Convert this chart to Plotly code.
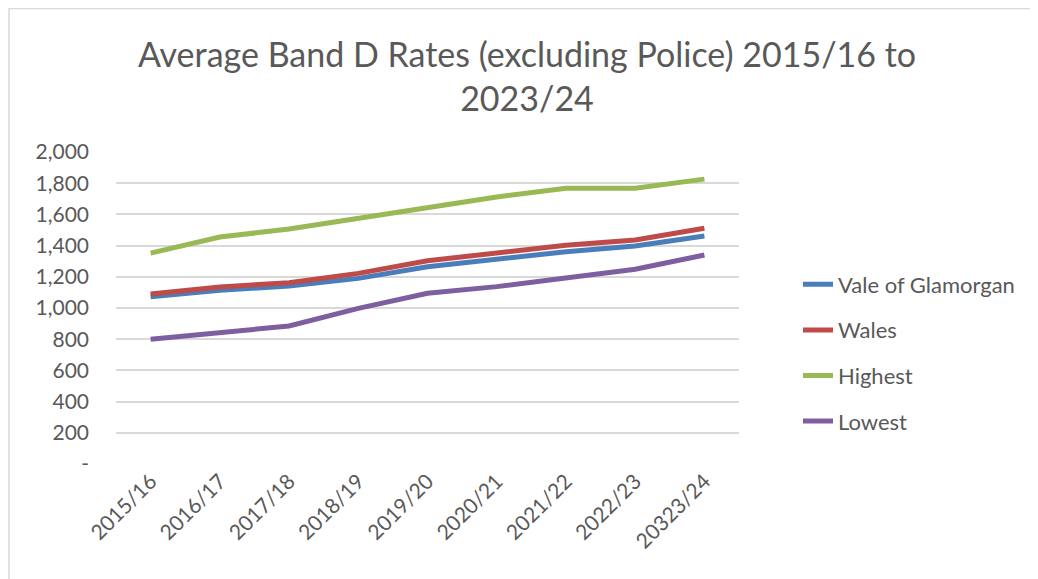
import plotly.graph_objects as go

years = ["2015/16", "2016/17", "2017/18", "2018/19", "2019/20",
         "2020/21", "2021/22", "2022/23", "20323/24"]
vale = [1072, 1113, 1141, 1190, 1265, 1312, 1361, 1397, 1462]
wales = [1090, 1135, 1162, 1222, 1303, 1350, 1402, 1436, 1511]
highest = [1352, 1455, 1506, 1577, 1647, 1712, 1768, 1768, 1826]
lowest = [799, 842, 885, 998, 1094, 1137, 1190, 1248, 1340]

series_names = ["Vale of Glamorgan", "Wales", "Highest", "Lowest"]
series_values = [vale, wales, highest, lowest]
colors = ["#4A7EBB", "#BE4B48", "#98B954", "#7D5FA0"]

y_tickvals = [0, 200, 400, 600, 800, 1000, 1200, 1400, 1600, 1800, 2000]
y_ticktext = ["-", "200", "400", "600", "800", "1,000", "1,200", "1,400",
              "1,600", "1,800", "2,000"]

FONT = "Lato, Carlito, Calibri, sans-serif"
GREY = "#595959"

fig = go.Figure()
for i, (name, vals, col) in enumerate(zip(series_names, series_values, colors)):
    fig.add_trace(go.Scatter(
        x=years, y=vals, mode="lines", name=name,
        line=dict(color=col, width=5),
        legendgroup=f"g{i}",
    ))

W, H = 1038, 579
L, R, T, B = 108, 731, 144, 456


def px_x(v):
    return (v - L) / (R - L)


def px_y(v):
    return (B - v) / (B - T)


border = dict(color="#D9D9D9", width=1.5)

fig.update_layout(
    width=W, height=H,
    margin=dict(l=L, r=W - R, t=T, b=H - B, autoexpand=False),
    paper_bgcolor="white", plot_bgcolor="white",
    font=dict(family=FONT, color=GREY, size=21),
    title=dict(
        text="Average Band D Rates (excluding Police) 2015/16 to<br>2023/24",
        x=0.5, xref="container", xanchor="center",
        y=1 - 59 / H, yref="container", yanchor="top",
        font=dict(family=FONT, size=34, color=GREY),
    ),
    showlegend=True,
    legend=dict(
        x=1 + (790 - R) / (R - L), xanchor="left",
        y=(B - 345) / (B - T), yanchor="middle",
        font=dict(family=FONT, size=22, color=GREY),
        tracegroupgap=14,
        bgcolor="rgba(0,0,0,0)",
    ),
    xaxis=dict(
        type="category", range=[-0.5, 8.5],
        showgrid=False, zeroline=False, showline=False,
        ticks="", tickangle=-45,
        tickfont=dict(family=FONT, size=21, color=GREY),
    ),
    yaxis=dict(
        range=[0, 2000], tickvals=y_tickvals, ticktext=y_ticktext,
        showgrid=True, gridcolor="#D9D9D9", gridwidth=1.5,
        zeroline=False, showline=False, ticks="",
        ticklabelstandoff=26,
        tickfont=dict(family=FONT, size=21, color=GREY),
    ),
    shapes=[
        dict(type="line", xref="paper", yref="paper",
             x0=px_x(1), x1=px_x(1200), y0=px_y(0.5), y1=px_y(0.5),
             line=border, layer="below"),
        dict(type="line", xref="paper", yref="paper",
             x0=px_x(1), x1=px_x(1), y0=px_y(0), y1=px_y(700),
             line=border, layer="below"),
    ],
)

fig.write_html("out.html",
               post_script="document.body.style.overflow='hidden';")
